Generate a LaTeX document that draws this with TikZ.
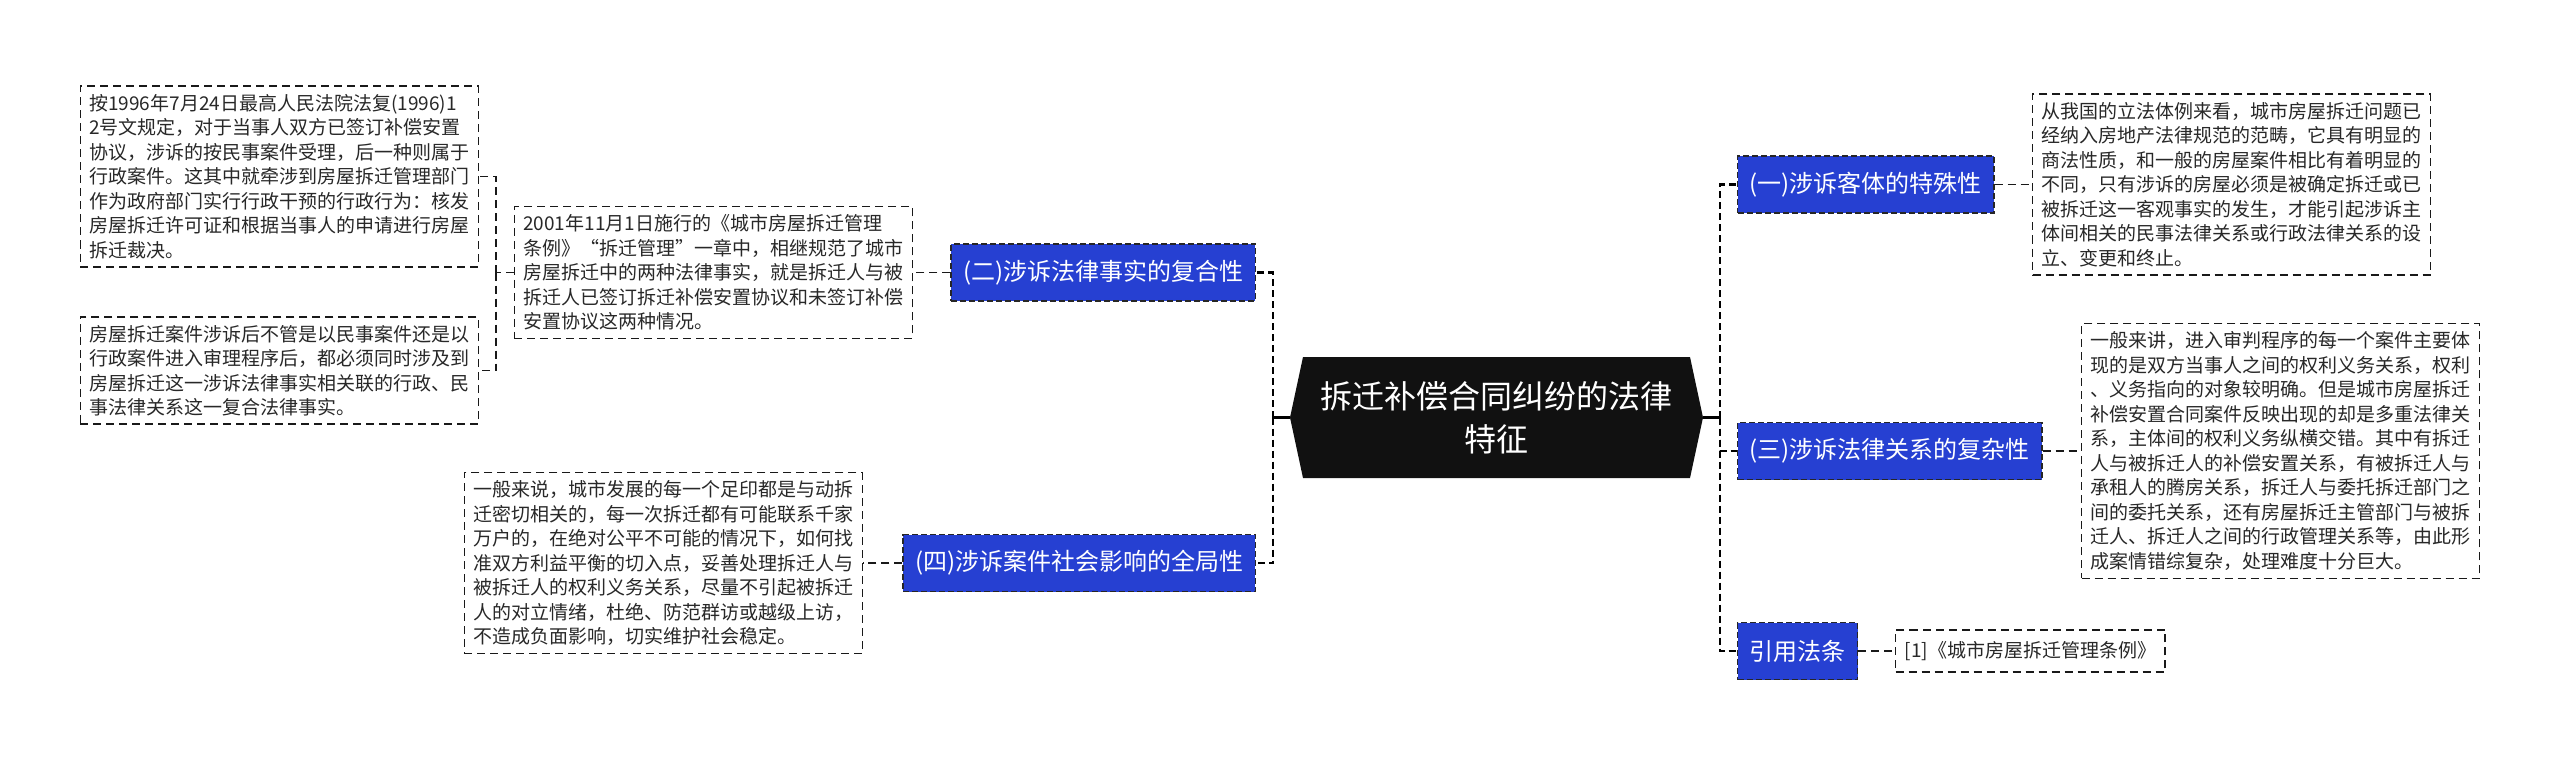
\documentclass[tikz,border=0pt]{standalone}
\usepackage{fontspec}
\setmainfont{Noto Sans CJK SC}
\usepackage{tikz}

\definecolor{branchblue}{RGB}{38,64,210}
\definecolor{leafgray}{RGB}{40,40,40}
\definecolor{rootblack}{RGB}{17,17,17}

\begin{document}
\begin{tikzpicture}[x=1pt,y=-1pt,
    leaf/.style={draw=black!90, line width=1.4pt, dash pattern=on 8pt off 5pt,
        text=leafgray, font=\fontsize{19}{24.5}\selectfont, align=left,
        inner xsep=9pt, inner ysep=8pt},
    note/.style={leaf, text width=380pt},
    branch/.style={fill=branchblue, draw=black!85, line width=1.3pt,
        dash pattern=on 6pt off 3pt, text=white,
        font=\fontsize{24}{28}\selectfont, minimum height=57pt, inner xsep=12pt},
    roottext/.style={text=white, align=center, font=\fontsize{32}{43}\selectfont},
    link/.style={draw=black!90, line width=1.4pt, dash pattern=on 8pt off 5pt},
    spine/.style={draw=black, line width=2.6pt, dash pattern=on 7pt off 4pt},
    hubline/.style={draw=black, line width=2.6pt}]

\useasboundingbox (0,0) rectangle (2560,761);
\fill[white] (0,0) rectangle (2560,761);

\coordinate (rootW) at (1290,417.5);
\coordinate (rootE) at (1703,417.5);
\coordinate (lhub) at (1273,417.5);
\coordinate (rhub) at (1720,417.5);
\coordinate (lfork) at (496,272.5);

\fill[rootblack] (rootW) -- (1303,357) -- (1690,357) -- (rootE)
    -- (1690,478) -- (1303,478) -- cycle;
\node[roottext] (root) at (1496.5,417.5) {拆迁补偿合同纠纷的法律\\特征};

% right side
\node[branch, anchor=west] (b1) at (1737,184.5) {(一)涉诉客体的特殊性};
\node[note, anchor=west] (t1) at (2032,184.5)
    {从我国的立法体例来看，城市房屋拆迁问题已\\
     经纳入房地产法律规范的范畴，它具有明显的\\
     商法性质，和一般的房屋案件相比有着明显的\\
     不同，只有涉诉的房屋必须是被确定拆迁或已\\
     被拆迁这一客观事实的发生，才能引起涉诉主\\
     体间相关的民事法律关系或行政法律关系的设\\
     立、变更和终止。};

\node[branch, anchor=west] (b3) at (1737,451) {(三)涉诉法律关系的复杂性};
\node[note, anchor=west] (t3) at (2081,451)
    {一般来讲，进入审判程序的每一个案件主要体\\
     现的是双方当事人之间的权利义务关系，权利\\
     、义务指向的对象较明确。但是城市房屋拆迁\\
     补偿安置合同案件反映出现的却是多重法律关\\
     系，主体间的权利义务纵横交错。其中有拆迁\\
     人与被拆迁人的补偿安置关系，有被拆迁人与\\
     承租人的腾房关系，拆迁人与委托拆迁部门之\\
     间的委托关系，还有房屋拆迁主管部门与被拆\\
     迁人、拆迁人之间的行政管理关系等，由此形\\
     成案情错综复杂，处理难度十分巨大。};

\node[branch, anchor=west] (b5) at (1737,651) {引用法条};
\node[leaf, anchor=west, minimum height=42pt] (cite) at (1895,651)
    {[1]《城市房屋拆迁管理条例》};

% left side
\node[branch, anchor=east] (b2) at (1256,272.5) {(二)涉诉法律事实的复合性};
\node[note, anchor=east] (t2) at (913,272.5)
    {2001年11月1日施行的《城市房屋拆迁管理\\
     条例》“拆迁管理”一章中，相继规范了城市\\
     房屋拆迁中的两种法律事实，就是拆迁人与被\\
     拆迁人已签订拆迁补偿安置协议和未签订补偿\\
     安置协议这两种情况。};
\node[note, anchor=east] (t2a) at (479,176.5)
    {按1996年7月24日最高人民法院法复(1996)1\\
     2号文规定，对于当事人双方已签订补偿安置\\
     协议，涉诉的按民事案件受理，后一种则属于\\
     行政案件。这其中就牵涉到房屋拆迁管理部门\\
     作为政府部门实行行政干预的行政行为：核发\\
     房屋拆迁许可证和根据当事人的申请进行房屋\\
     拆迁裁决。};
\node[note, anchor=east] (t2b) at (479,370.5)
    {房屋拆迁案件涉诉后不管是以民事案件还是以\\
     行政案件进入审理程序后，都必须同时涉及到\\
     房屋拆迁这一涉诉法律事实相关联的行政、民\\
     事法律关系这一复合法律事实。};

\node[branch, anchor=east] (b4) at (1256,563) {(四)涉诉案件社会影响的全局性};
\node[note, anchor=east] (t4) at (863,563)
    {一般来说，城市发展的每一个足印都是与动拆\\
     迁密切相关的，每一次拆迁都有可能联系千家\\
     万户的，在绝对公平不可能的情况下，如何找\\
     准双方利益平衡的切入点，妥善处理拆迁人与\\
     被拆迁人的权利义务关系，尽量不引起被拆迁\\
     人的对立情绪，杜绝、防范群访或越级上访，\\
     不造成负面影响，切实维护社会稳定。};

% connectors
\draw[hubline] (rootW) -- (lhub);
\draw[hubline] ([yshift=-7pt]lhub) -- ([yshift=7pt]lhub);
\draw[hubline] (rootE) -- (rhub);
\draw[hubline] ([yshift=-7pt]rhub) -- ([yshift=7pt]rhub);

\foreach \n in {b2,b4}
    \draw[spine] (lhub) |- (\n.east);
\foreach \n in {b1,b3,b5}
    \draw[spine] (rhub) |- (\n.west);

\foreach \a/\b in {b1/t1,b3/t3,b5/cite}
    \draw[link] (\a.east) -- (\b.west);
\foreach \a/\b in {b2/t2,b4/t4}
    \draw[link] (\a.west) -- (\b.east);

\draw[link] (t2.west) -- (lfork);
\foreach \n in {t2a,t2b}
    \draw[link] (lfork) |- (\n.east);

\end{tikzpicture}
\end{document}
